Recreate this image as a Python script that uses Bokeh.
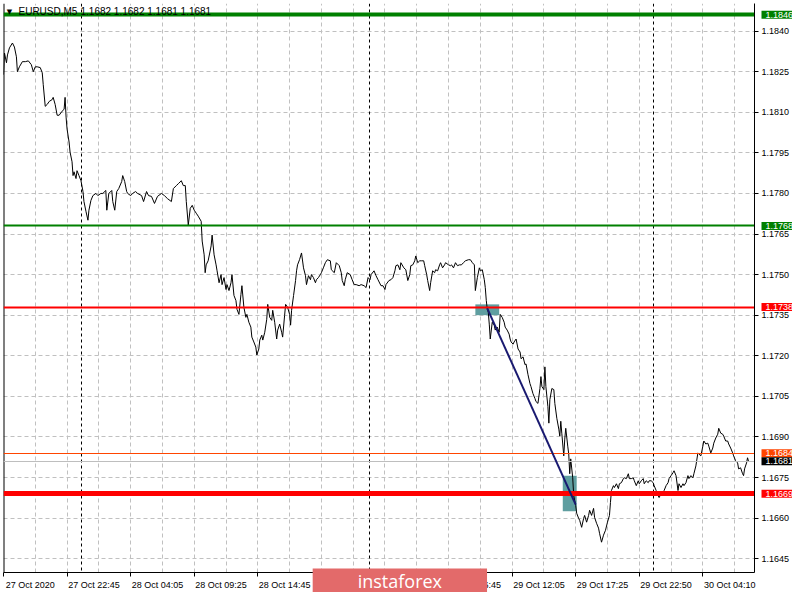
from bokeh.plotting import figure
from bokeh.models import Range1d, FixedTicker, PrintfTickFormatter, Label
from bokeh.core.properties import value
from bokeh.embed import file_html
from bokeh.resources import INLINE

FONT = "Liberation Sans"

# ---------------- data ----------------
symbol_text = "EURUSD,M5"
quote_text = "1.1682 1.1682 1.1681 1.1681"

# bar number (5-minute bars, 0 = 27 Oct 17:25) and close price
bars_a = [0, 1, 3, 4, 6, 9, 11, 13, 14, 16, 19, 22, 25, 28, 30, 32, 34, 37, 39, 40,
          42, 44, 46, 49, 50, 52, 54, 56, 59, 61, 62, 63, 64, 66, 67, 69, 70, 71, 73, 74,
          76, 78, 80, 81, 83, 85, 86, 88, 90, 93, 95, 98, 100, 103, 104, 106, 109, 110, 112, 114,
          116, 119, 120, 122, 124, 125, 128, 130, 133, 135, 139, 141, 144, 146, 149, 152, 155, 159, 162, 165,
          169, 171, 174, 176, 179, 181, 183]
close_a = [1.18239, 1.18319, 1.18283, 1.18312, 1.18338, 1.18356, 1.18341, 1.18305, 1.18250, 1.18268,
           1.18287, 1.18287, 1.18290, 1.18276, 1.18250, 1.18268, 1.18268, 1.18265, 1.18246, 1.18202,
           1.18122, 1.18129, 1.18140, 1.18147, 1.18155, 1.18129, 1.18089, 1.18089, 1.18104, 1.18111,
           1.18155, 1.18082, 1.18038, 1.17990, 1.17953, 1.17917, 1.17866, 1.17880, 1.17855, 1.17884,
           1.17866, 1.17847, 1.17807, 1.17770, 1.17734, 1.17701, 1.17738, 1.17774, 1.17792, 1.17800,
           1.17792, 1.17800, 1.17800, 1.17811, 1.17738, 1.17800, 1.17811, 1.17770, 1.17738, 1.17807,
           1.17818, 1.17844, 1.17866, 1.17844, 1.17807, 1.17800, 1.17792, 1.17800, 1.17807, 1.17800,
           1.17792, 1.17770, 1.17807, 1.17792, 1.17789, 1.17763, 1.17789, 1.17800, 1.17792, 1.17781,
           1.17770, 1.17818, 1.17829, 1.17836, 1.17847, 1.17829, 1.17829]

bars_b = [184, 186, 188, 190, 192, 194, 196, 199, 200, 202, 203, 204, 206, 208, 209, 210, 212, 214, 215, 217,
          219, 220, 222, 224, 225, 227, 229, 230, 232, 234, 235, 237, 239, 240, 242, 244, 245, 247, 249, 250,
          252, 254, 255, 257, 258, 260, 261, 263, 265, 266, 268, 270, 271, 273, 275, 276, 278, 280, 281, 283,
          284, 286, 288, 289, 290, 292, 294, 295, 296, 298, 300, 302, 304, 305, 307, 309, 310, 312, 314, 315,
          317, 319, 320, 322, 324, 326, 329]
close_b = [1.17770, 1.17683, 1.17745, 1.17756, 1.17738, 1.17727, 1.17716, 1.17697, 1.17624, 1.17573,
           1.17507, 1.17536, 1.17551, 1.17587, 1.17606, 1.17646, 1.17573, 1.17536, 1.17514, 1.17470,
           1.17500, 1.17463, 1.17489, 1.17445, 1.17463, 1.17441, 1.17470, 1.17500, 1.17423, 1.17404,
           1.17372, 1.17353, 1.17426, 1.17459, 1.17379, 1.17342, 1.17353, 1.17324, 1.17306, 1.17269,
           1.17251, 1.17232, 1.17203, 1.17225, 1.17258, 1.17276, 1.17258, 1.17287, 1.17335, 1.17390,
           1.17342, 1.17331, 1.17368, 1.17324, 1.17262, 1.17295, 1.17317, 1.17287, 1.17269, 1.17350,
           1.17390, 1.17379, 1.17353, 1.17313, 1.17368, 1.17423, 1.17478, 1.17514, 1.17536, 1.17555,
           1.17580, 1.17525, 1.17496, 1.17463, 1.17496, 1.17481, 1.17500, 1.17489, 1.17470, 1.17481,
           1.17489, 1.17500, 1.17507, 1.17525, 1.17544, 1.17555, 1.17551]

bars_c = [330, 333, 335, 338, 340, 341, 343, 344, 346, 349, 351, 353, 355, 358, 360, 363, 365, 367, 369, 370,
          373, 375, 377, 380, 382, 384, 385, 388, 390, 392, 394, 395, 397, 399, 400, 403, 405, 407, 409, 410,
          412, 414, 415, 417, 419, 421, 423, 424, 426, 427, 429, 430, 432, 434, 435, 437, 439, 440, 442, 444,
          445, 448, 450, 451, 453, 455, 457, 459, 461, 463, 465, 468, 470, 472, 474, 475, 477, 479, 480, 482,
          484]
close_c = [1.17518, 1.17507, 1.17544, 1.17533, 1.17507, 1.17478, 1.17459, 1.17481, 1.17507, 1.17500,
           1.17481, 1.17463, 1.17463, 1.17459, 1.17463, 1.17459, 1.17452, 1.17489, 1.17481, 1.17500,
           1.17514, 1.17496, 1.17481, 1.17459, 1.17459, 1.17445, 1.17463, 1.17478, 1.17481, 1.17489,
           1.17514, 1.17533, 1.17536, 1.17518, 1.17544, 1.17525, 1.17518, 1.17478, 1.17500, 1.17533,
           1.17536, 1.17551, 1.17569, 1.17544, 1.17551, 1.17551, 1.17551, 1.17533, 1.17500, 1.17478,
           1.17441, 1.17470, 1.17514, 1.17507, 1.17518, 1.17514, 1.17536, 1.17544, 1.17525, 1.17536,
           1.17544, 1.17536, 1.17533, 1.17536, 1.17525, 1.17544, 1.17533, 1.17536, 1.17536, 1.17544,
           1.17551, 1.17555, 1.17555, 1.17544, 1.17536, 1.17441, 1.17489, 1.17525, 1.17514, 1.17518,
           1.17481]

bars_d = [485, 486, 487, 488, 489, 490, 492, 494, 495, 497, 499, 500, 502, 504, 505, 507, 509, 510, 511, 513,
          514, 516, 518, 520, 521, 523, 525, 526, 528, 530, 531, 533, 535, 536, 538, 540, 541, 542, 544, 545,
          546, 548, 549, 550, 552, 554, 555, 557, 559, 560, 561, 562, 564, 565, 566, 568, 569, 570, 571, 573,
          574, 576, 577, 579, 580, 582, 584, 585, 587, 589, 590, 592, 594, 595, 597, 599, 600, 602, 604, 606,
          608, 610, 611, 612, 614, 615]
close_d = [1.17452, 1.17404, 1.17372, 1.17361, 1.17317, 1.17262, 1.17324, 1.17313, 1.17295, 1.17306,
           1.17287, 1.17353, 1.17342, 1.17324, 1.17306, 1.17295, 1.17280, 1.17262, 1.17251, 1.17243,
           1.17251, 1.17262, 1.17225, 1.17214, 1.17189, 1.17196, 1.17167, 1.17170, 1.17130, 1.17097,
           1.17086, 1.17060, 1.17042, 1.17031, 1.17024, 1.17079, 1.17123, 1.17086, 1.17075, 1.17159,
           1.17086, 1.17013, 1.16951, 1.17038, 1.17079, 1.17075, 1.17024, 1.16969, 1.16929, 1.16903,
           1.16958, 1.16914, 1.16830, 1.16892, 1.16932, 1.16866, 1.16837, 1.16764, 1.16819, 1.16749,
           1.16683, 1.16647, 1.16618, 1.16599, 1.16592, 1.16566, 1.16599, 1.16610, 1.16585, 1.16610,
           1.16629, 1.16610, 1.16636, 1.16603, 1.16581, 1.16563, 1.16544, 1.16511, 1.16537, 1.16555,
           1.16585, 1.16610, 1.16658, 1.16702, 1.16720, 1.16713]

bars_e = [617, 619, 620, 622, 624, 625, 627, 629, 630, 632, 634, 635, 637, 639, 640, 642, 644, 645, 647, 649,
          650, 652, 654, 655, 657, 659, 660, 662, 664, 665, 667, 669, 670, 672, 674, 675, 677, 679, 680, 682,
          684, 685, 687, 689, 690, 692, 694, 695, 697, 699, 700, 702, 704, 705, 707, 709, 710, 712, 714, 715,
          717, 719, 720, 722, 724, 725, 727, 729, 730, 732, 734, 735, 737, 739, 740, 742, 744, 745, 746, 748,
          749, 750]
close_e = [1.16727, 1.16709, 1.16727, 1.16731, 1.16746, 1.16749, 1.16746, 1.16764, 1.16746, 1.16746,
           1.16749, 1.16738, 1.16720, 1.16738, 1.16727, 1.16738, 1.16746, 1.16727, 1.16738, 1.16731,
           1.16738, 1.16738, 1.16731, 1.16720, 1.16702, 1.16683, 1.16676, 1.16691, 1.16683, 1.16702,
           1.16720, 1.16731, 1.16746, 1.16757, 1.16768, 1.16775, 1.16757, 1.16702, 1.16727, 1.16713,
           1.16727, 1.16720, 1.16731, 1.16757, 1.16746, 1.16757, 1.16749, 1.16764, 1.16793, 1.16841,
           1.16837, 1.16830, 1.16866, 1.16885, 1.16874, 1.16877, 1.16866, 1.16841, 1.16859, 1.16877,
           1.16896, 1.16910, 1.16932, 1.16914, 1.16910, 1.16903, 1.16885, 1.16885, 1.16874, 1.16859,
           1.16841, 1.16830, 1.16812, 1.16804, 1.16782, 1.16786, 1.16764, 1.16757, 1.16782, 1.16804,
           1.16823, 1.16810]

bars = bars_a + bars_b + bars_c + bars_d + bars_e
close = close_a + close_b + close_c + close_d + close_e
assert len(bars) == len(close)

time_tick_bars = [0, 64, 128, 192, 256, 320, 384, 448, 512, 576, 640, 704]
time_tick_labels = ["27 Oct 2020", "27 Oct 22:45", "28 Oct 04:05", "28 Oct 09:25",
                    "28 Oct 14:45", "28 Oct 20:05", "29 Oct 01:25", "29 Oct 06:45",
                    "29 Oct 12:05", "29 Oct 17:25", "29 Oct 22:50", "30 Oct 04:10"]
time_grid_bars = [0, 32, 64, 96, 128, 160, 192, 224, 256, 288, 320, 352, 384, 416,
                  448, 480, 512, 544, 576, 608, 640, 672, 704, 736]
day_separator_bars = [79, 368, 654]

price_ticks = [1.1645, 1.1660, 1.1675, 1.1690, 1.1705, 1.1720, 1.1735,
               1.1750, 1.1765, 1.1780, 1.1795, 1.1810, 1.1825, 1.1840]

level_prices = [1.1846, 1.1768, 1.1738, 1.1684, 1.1669]
level_colors = ["#008000", "#008000", "#FF0000", "#FF4500", "#FF0000"]
level_widths = [4, 2, 2, 1, 5]
bid_price = 1.1681

trade_box_left = [475, 563]
trade_box_right = [499, 577]
trade_box_bottom = [1.17350, 1.16625]
trade_box_top = [1.17390, 1.16757]
trade_line_bars = [487, 576]
trade_line_prices = [1.17375, 1.16650]

watermark_text = "instaforex"

# ---------------- figure ----------------
X0, X1 = 0, 756
Y0, Y1 = 1.16399, 1.18502
LABEL_SHIFT = 27  # centre of a left-aligned time label, in bars

p = figure(width=792, height=592, output_backend="svg", toolbar_location=None,
           x_range=Range1d(X0, X1), y_range=Range1d(Y0, Y1),
           y_axis_location="right",
           min_border_left=3, min_border_top=3, min_border_right=37, min_border_bottom=14)
p.background_fill_color = "white"
p.border_fill_color = "white"
p.outline_line_color = None

# grids
p.xgrid.ticker = FixedTicker(ticks=time_grid_bars)
p.ygrid.ticker = FixedTicker(ticks=price_ticks)
for g in (p.xgrid, p.ygrid):
    g.grid_line_color = "#C0C0C0"
    g.grid_line_dash = "4 3"
    g.grid_line_width = 1

# x axis: tick marks at bar positions, labels starting at tick
xa = p.xaxis[0]
xa.ticker = FixedTicker(ticks=[b + LABEL_SHIFT for b in time_tick_bars], minor_ticks=time_tick_bars)
xa.major_label_overrides = {b + LABEL_SHIFT: lab for b, lab in zip(time_tick_bars, time_tick_labels)}
xa.major_tick_line_color = None
xa.major_tick_out = 0
xa.major_tick_in = 0
xa.minor_tick_line_color = "black"
xa.minor_tick_out = 4
xa.minor_tick_in = 0
xa.axis_line_color = "black"
xa.major_label_standoff = 3
xa.major_label_text_font = FONT
xa.major_label_text_font_size = "9px"
xa.major_label_text_color = "black"

ya = p.yaxis[0]
ya.ticker = FixedTicker(ticks=price_ticks)
ya.formatter = PrintfTickFormatter(format="%.4f")
ya.major_tick_out = 4
ya.major_tick_in = 0
ya.minor_tick_line_color = None
ya.axis_line_color = "black"
ya.major_label_standoff = 3
ya.major_label_text_font = FONT
ya.major_label_text_font_size = "9px"
ya.major_label_text_color = "black"

# left border of the chart window
p.vspan(x=[X0], line_color="black", line_width=2)

# day separators
p.vspan(x=day_separator_bars, line_color="black", line_width=1, line_dash="3 3")

# trade boxes
p.quad(left=trade_box_left, right=trade_box_right, bottom=trade_box_bottom, top=trade_box_top,
       fill_color="#5F9EA0", line_color=None)

# price line
p.line(bars, close, line_color="black", line_width=1)

# levels
p.hspan(y=[bid_price], line_color="#BEBEBE", line_width=1)
p.hspan(y=level_prices, line_color=level_colors, line_width=level_widths)

# trade line
p.line(trade_line_bars, trade_line_prices, line_color="#191970", line_width=2)

# price tags on the right scale (overlay level, drawn over the axis)
tag_colors = level_colors + ["black"]
tag_prices = level_prices + [bid_price]
p.text(x=[X1] * len(tag_prices), y=tag_prices, text=["%.4f" % v for v in tag_prices],
       x_offset=7, text_font=value(FONT), text_font_size="9px", text_color="white",
       text_baseline="middle", text_align="left", background_fill_color=tag_colors,
       padding=dict(left=4, right=6, top=1, bottom=1), level="overlay")

# watermark over the time scale
p.text(x=[399], y=[Y0], text=[watermark_text], y_offset=15, text_font=value("Open Sans"),
       text_font_size="18px", text_color="white", text_align="center", text_baseline="middle",
       background_fill_color="#E36A6A", padding=dict(left=45, right=45, top=0, bottom=14),
       level="overlay")

# header
p.add_layout(Label(x=X0, y=1.18471, x_offset=6, text="\u25BC", text_font="DejaVu Sans",
                   text_font_size="7px", text_color="black", text_align="center",
                   text_baseline="middle"))
p.add_layout(Label(x=X0, y=1.18471, x_offset=15, text=symbol_text, text_font=FONT,
                   text_font_size="10px", text_color="black", text_baseline="middle"))
p.add_layout(Label(x=X0, y=1.18471, x_offset=77, text=quote_text, text_font=FONT,
                   text_font_size="10px", text_color="black", text_baseline="middle"))

open("out.html", "w").write(file_html(p, INLINE))
